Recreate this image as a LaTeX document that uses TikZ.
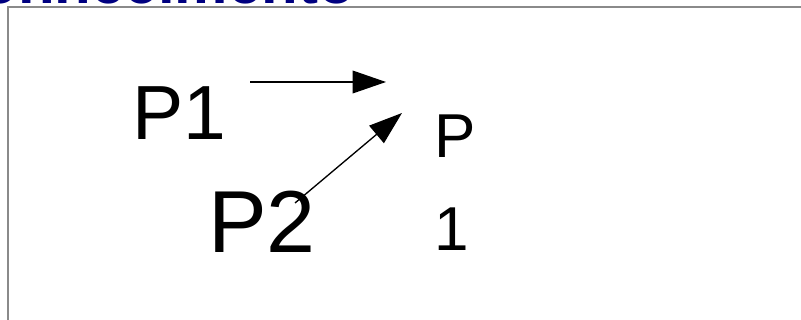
\documentclass[tikz,border=0pt]{standalone}
\usepackage{fontspec}
\setmainfont{Liberation Sans}
\usetikzlibrary{arrows.meta}
\definecolor{titleblue}{HTML}{000080}
\definecolor{framegray}{HTML}{8A8A8A}
\tikzset{
  label/.style={inner sep=0pt, anchor=base west, text=black},
  conn/.style={line width=1pt, -{Triangle[length=25pt, width=17pt]}},
}
\begin{document}
\begin{tikzpicture}[x=0.75pt, y=-0.75pt]
\useasboundingbox (0,0) rectangle (801,320);
\clip (0,0) rectangle (801,320);
\fill[white] (0,0) rectangle (801,320);
% title (cut off at the top, as in the reference)
\node[inner sep=0pt, anchor=base east, text=titleblue,
      font=\bfseries\fontsize{45pt}{54pt}\selectfont] (title) at (355,3.5) {Conhecimento};
% frame
\draw[framegray, line width=1.5pt] (8,322) -- (8,7) -- (803,7);
% labels
\node[label, font=\fontsize{57.6pt}{69pt}\selectfont] (p1) at (132,140) {P1};
\node[label, font=\fontsize{66pt}{79pt}\selectfont] (p2) at (208,253) {P2};
\node[label, align=left, font=\fontsize{46.5pt}{69.75pt}\selectfont] (res) at (434,251) {P\\1};
% connectors
\coordinate (a1s) at (250,82);
\coordinate (a1e) at (386,82);
\coordinate (a2s) at (295,203);
\coordinate (a2e) at (402,113);
\draw[conn] (a1s) -- (a1e);
\draw[conn] (a2s) -- (a2e);
\end{tikzpicture}
\end{document}
